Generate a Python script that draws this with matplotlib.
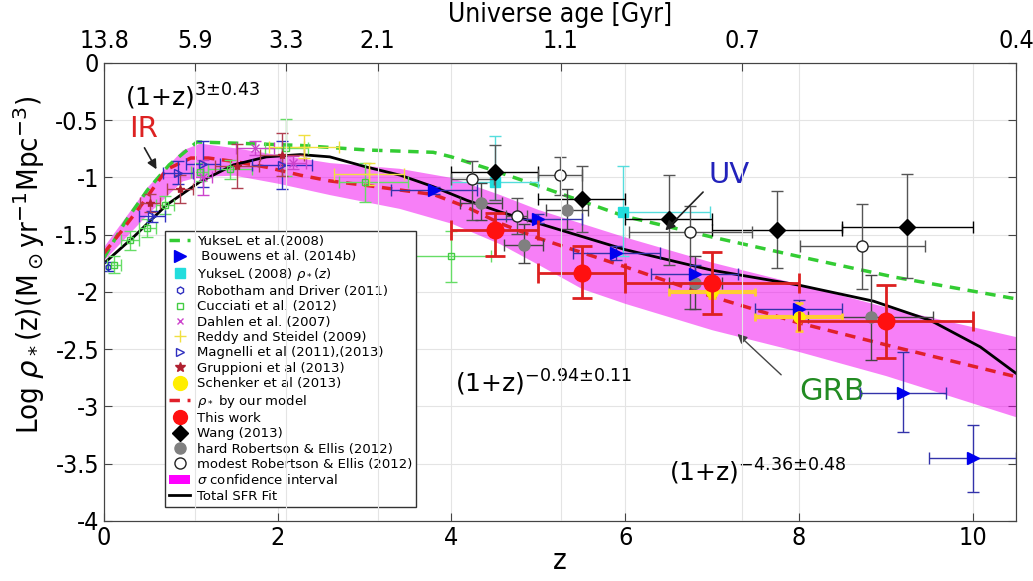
import numpy as np
import matplotlib
matplotlib.use('Agg')
import matplotlib.pyplot as plt
from matplotlib.lines import Line2D
from matplotlib.patches import Patch

plt.rcParams['font.family'] = 'DejaVu Sans'
plt.rcParams['axes.unicode_minus'] = False
plt.rcParams['mathtext.fontset'] = 'dejavusans'

# ---- curves ----
yuksel_z = [0, 0.25, 0.5, 0.75, 1.07, 1.5, 2.26, 3.03, 3.79, 4.0, 4.41, 4.76, 5.1, 6.0, 7.0, 8.0, 9.1, 10.5]
yuksel_y = [-1.70, -1.38, -1.11, -0.89, -0.69, -0.70, -0.72, -0.76, -0.78, -0.82, -0.92, -1.01, -1.10, -1.34, -1.52, -1.69, -1.87, -2.06]

model_z = [0, 0.2, 0.45, 0.72, 1.0, 1.2, 1.5, 1.87, 2.26, 2.6, 3.03, 3.8, 4.18, 4.56, 5.0, 6.0, 7.0, 8.0, 9.1, 10.5]
model_y = [-1.66, -1.47, -1.22, -0.93, -0.83, -0.83, -0.86, -0.91, -0.98, -1.03, -1.07, -1.15, -1.26, -1.40, -1.53, -1.78, -2.04, -2.27, -2.48, -2.74]

fit_z = [0, 0.34, 0.72, 1.1, 1.49, 1.87, 2.26, 2.6, 3.03, 3.41, 3.79, 4.18, 4.56, 5.0, 6.0, 7.0, 8.0, 8.86, 9.52, 10.09, 10.5]
fit_y = [-1.75, -1.52, -1.24, -1.04, -0.89, -0.82, -0.80, -0.82, -0.91, -0.98, -1.08, -1.20, -1.30, -1.40, -1.63, -1.81, -1.94, -2.08, -2.25, -2.48, -2.71]

band_z = [0, 0.5, 0.9, 1.1, 1.5, 2.0, 2.6, 3.4, 4.0, 4.56, 5.0, 5.5, 6.0, 7.0, 8.0, 9.0, 10.5]
band_hi = [-1.60, -1.08, -0.76, -0.70, -0.74, -0.80, -0.87, -0.92, -1.00, -1.15, -1.28, -1.40, -1.52, -1.74, -1.93, -2.13, -2.39]
band_lo = [-1.72, -1.32, -1.03, -0.99, -0.98, -1.05, -1.15, -1.27, -1.40, -1.58, -1.76, -1.97, -2.10, -2.33, -2.52, -2.73, -3.09]

# ---- data points ----
bouwens_z = [3.8, 5.0, 5.9, 6.8, 8.0, 9.2, 10.0]
bouwens_y = [-1.11, -1.36, -1.66, -1.84, -2.15, -2.88, -3.45]
bouwens_dx = [0.5, 0.5, 0.5, 0.5, 0.5, 0.5, 0.5]
bouwens_dy_lo = [0.03, 0.04, 0.06, 0.08, 0.08, 0.34, 0.30]
bouwens_dy_hi = [0.03, 0.04, 0.06, 0.08, 0.08, 0.36, 0.29]

ycyan_z = [4.5, 5.98]
ycyan_y = [-1.04, -1.30]
ycyan_dx_lo = [0.5, 0.0]
ycyan_dx_hi = [0.5, 1.0]
ycyan_dy_lo = [0.16, 0.39]
ycyan_dy_hi = [0.40, 0.40]

wang_z = [4.5, 5.5, 6.5, 7.75, 9.25]
wang_y = [-0.95, -1.19, -1.36, -1.46, -1.43]
wang_dx = [0.5, 0.5, 0.5, 0.75, 0.75]
wang_dy_lo = [0.25, 0.29, 0.40, 0.33, 0.45]
wang_dy_hi = [0.23, 0.29, 0.38, 0.34, 0.46]

modest_z = [4.24, 4.75, 5.25, 6.75, 8.73]
modest_y = [-1.01, -1.34, -0.98, -1.48, -1.60]
modest_dx = [0.25, 0.12, 0.25, 0.71, 0.72]
modest_dy_lo = [0.36, 0.15, 0.17, 0.67, 0.37]
modest_dy_hi = [0.15, 0.16, 0.16, 0.23, 0.37]

hard_z = [4.34, 4.83, 5.33, 6.81, 8.83]
hard_y = [-1.22, -1.59, -1.28, -1.92, -2.22]
hard_dx = [0.24, 0.23, 0.24, 0.3, 0.72]
hard_dy_lo = [0.15, 0.16, 0.17, 0.23, 0.37]
hard_dy_hi = [0.17, 0.18, 0.18, 0.23, 0.37]

grb_z = [4.5, 5.5, 7.0, 9.0]
grb_y = [-1.46, -1.83, -1.92, -2.25]
grb_dx = [0.5, 0.5, 1.0, 1.0]
grb_dy_lo = [0.23, 0.22, 0.27, 0.33]
grb_dy_hi = [0.15, 0.23, 0.27, 0.31]

schenker_z = [7.0, 8.0]
schenker_y = [-2.0, -2.22]
schenker_dx = [0.5, 0.5]
schenker_dy = [0.05, 0.12]

reddy_z = [2.3, 3.05]
reddy_y = [-0.73, -0.97]
reddy_dx = [0.4, 0.4]
reddy_dy = [0.1, 0.1]

cucciati_z = [0.12, 0.3, 0.5, 0.7, 1.1, 1.45, 2.1, 3.0, 4.0]
cucciati_y = [-1.76, -1.55, -1.44, -1.24, -0.95, -0.93, -0.74, -1.04, -1.69]
cucciati_dx_lo = [0.08, 0.1, 0.1, 0.1, 0.1, 0.25, 0.25, 0.3, 0.6]
cucciati_dx_hi = [0.08, 0.1, 0.1, 0.1, 0.1, 0.25, 0.25, 0.5, 0.45]
cucciati_dy = [0.07, 0.08, 0.08, 0.08, 0.08, 0.08, 0.25, 0.17, 0.22]

magnelli_z = [0.55, 0.85, 1.14, 2.05]
magnelli_y = [-1.34, -0.96, -0.88, -0.89]
magnelli_dx = [0.15, 0.17, 0.2, 0.35]
magnelli_dy = [0.05, 0.1, 0.2, 0.21]

dahlen_z = [1.14, 1.74, 2.18]
dahlen_y = [-1.00, -0.74, -0.87]
dahlen_dx = [0.1, 0.22, 0.15]
dahlen_dy = [0.15, 0.06, 0.06]

grupp_z = [0.53, 0.87, 1.53, 2.05]
grupp_y = [-1.22, -1.10, -0.90, -0.80]
grupp_dx = [0.12, 0.15, 0.25, 0.25]
grupp_dy = [0.08, 0.12, 0.19, 0.19]

robotham_z = [0.05]
robotham_y = [-1.78]
robotham_dy = [0.04]

age_ticks_z = [0, 1.05, 2.1, 3.15, 5.26, 7.35, 10.5]
age_labels = ['13.8', '5.9', '3.3', '2.1', '1.1', '0.7', '0.4']

fig = plt.figure(figsize=(10.33, 5.81), dpi=100)
ax = fig.add_axes([0.1007, 0.1033, 0.8828, 0.7883])

ax.fill_between(band_z, band_lo, band_hi, color='#f000f0', alpha=0.5, lw=0, zorder=1)
ax.plot(yuksel_z, yuksel_y, '--', color='#33cc33', lw=2.5, dashes=(3, 2.2), zorder=3)
ax.plot(model_z, model_y, '--', color='#e0202a', lw=2.5, dashes=(3, 2.2), zorder=3)
ax.plot(fit_z, fit_y, '-', color='black', lw=2, zorder=3)

ekw = dict(ls='none', capsize=4, elinewidth=1, capthick=1)

ax.errorbar(robotham_z, robotham_y, yerr=robotham_dy, fmt='h', ms=4, mfc='none',
            mec='#2020c0', ecolor='#2020c0', zorder=4, **ekw)
ax.errorbar(cucciati_z, cucciati_y, xerr=[cucciati_dx_lo, cucciati_dx_hi], yerr=cucciati_dy,
            fmt='s', ms=5, mfc='none', mec='#44cc44', ecolor='#66dd66', zorder=4, **ekw)
ax.errorbar(magnelli_z, magnelli_y, xerr=magnelli_dx, yerr=magnelli_dy, fmt='>', ms=6,
            mfc='none', mec='#3030c0', ecolor='#3030c0', zorder=4, **ekw)
ax.errorbar(dahlen_z, dahlen_y, xerr=dahlen_dx, yerr=dahlen_dy, fmt='x', ms=6,
            mec='#cc44cc', ecolor='#cc44cc', zorder=4, **ekw)
ax.errorbar(grupp_z, grupp_y, xerr=grupp_dx, yerr=grupp_dy, fmt='*', ms=6,
            color='#b02030', ecolor='#b04050', zorder=4, **ekw)
ax.errorbar(reddy_z, reddy_y, xerr=reddy_dx, yerr=reddy_dy, fmt='+', ms=8,
            color='#f0e040', ecolor='#f0e040', zorder=4, **ekw)
ax.errorbar(ycyan_z, ycyan_y, xerr=[ycyan_dx_lo, ycyan_dx_hi], yerr=[ycyan_dy_lo, ycyan_dy_hi],
            fmt='s', ms=7, color='#22dddd', ecolor='#55dddd', zorder=4, **ekw)
ax.errorbar(wang_z, wang_y, yerr=[wang_dy_lo, wang_dy_hi], fmt='D', ms=8,
            color='black', ecolor='#555555', zorder=5, **ekw)
ax.errorbar(wang_z, wang_y, xerr=wang_dx, fmt='none', ecolor='black', zorder=5, **ekw)
ax.errorbar(modest_z, modest_y, xerr=modest_dx, yerr=[modest_dy_lo, modest_dy_hi], fmt='o',
            ms=8, mfc='white', mec='#222222', ecolor='#555555', zorder=5, **ekw)
ax.errorbar(hard_z, hard_y, xerr=hard_dx, yerr=[hard_dy_lo, hard_dy_hi], fmt='o', ms=8,
            color='#808080', ecolor='#444444', zorder=5, **ekw)
ax.errorbar(bouwens_z, bouwens_y, xerr=bouwens_dx, yerr=[bouwens_dy_lo, bouwens_dy_hi],
            fmt='>', ms=8, color='#0000ee', ecolor='#3333aa', zorder=5, **ekw)
ax.errorbar(schenker_z, schenker_y, xerr=schenker_dx, yerr=schenker_dy, fmt='o', ms=8,
            color='#ffee00', ecolor='#ffcc33', zorder=5, ls='none', capsize=3,
            elinewidth=3, capthick=2)
ax.errorbar(grb_z, grb_y, xerr=grb_dx, yerr=[grb_dy_lo, grb_dy_hi], fmt='o', ms=12,
            color='#ff1010', ecolor='#dd2020', zorder=6, ls='none', capsize=7,
            elinewidth=2, capthick=2)

# slope labels and band names
fs = 18
ax.text(0.24, -0.3, r'(1+z)$^{3{\pm}0.43}$', fontsize=fs, ha='left', va='center')
ax.text(4.04, -2.79, r'(1+z)$^{-0.94{\pm}0.11}$', fontsize=fs, ha='left', va='center')
ax.text(6.5, -3.57, r'(1+z)$^{-4.36{\pm}0.48}$', fontsize=fs, ha='left', va='center')
ax.text(0.45, -0.58, 'IR', color='#dd2222', fontsize=21, ha='center', va='center')
ax.text(7.2, -0.98, 'UV', color='#2222bb', fontsize=21, ha='center', va='center')
ax.text(8.38, -2.87, 'GRB', color='#228b22', fontsize=22, ha='center', va='center')
arw = dict(arrowstyle='-|>', color='#222222', lw=1.2, mutation_scale=14)
ax.annotate('', xy=(0.62, -0.95), xytext=(0.45, -0.72), arrowprops=arw, zorder=7)
ax.annotate('', xy=(6.44, -1.48), xytext=(6.92, -1.11), arrowprops=arw, zorder=7)
ax.annotate('', xy=(7.27, -2.35), xytext=(7.82, -2.74),
            arrowprops=dict(arw, color='#444444', lw=1), zorder=7)

ax.set_xlim(0, 10.5)
ax.set_ylim(-4, 0)
ax.set_xticks([0, 2, 4, 6, 8, 10])
ax.set_yticks(np.arange(-4, 0.01, 0.5))
ax.set_yticklabels(['-4', '-3.5', '-3', '-2.5', '-2', '-1.5', '-1', '-0.5', '0'])
ax.tick_params(direction='in', labelsize=18, length=6, right=True, color='#444444')
for lab in ax.get_xticklabels() + ax.get_yticklabels():
    lab.set_fontstretch('condensed')
ax.grid(True, color='#e4e4e4', lw=0.8)
ax.set_axisbelow(True)
for s in ax.spines.values():
    s.set_color('#444444')
ax.set_xlabel('z', fontsize=21, labelpad=-2, fontstretch='condensed')
ax.set_ylabel(r'Log $\rho_*$(z)(M$_\odot$yr$^{-1}$Mpc$^{-3}$)', fontsize=21,
              fontstretch='condensed')
ax.yaxis.set_label_coords(-0.062, 0.56)

top = ax.twiny()
top.set_xlim(ax.get_xlim())
top.set_xticks(age_ticks_z)
top.set_xticklabels(age_labels)
top.tick_params(direction='in', labelsize=18, length=6, color='#444444', pad=7)
for lab in top.get_xticklabels():
    lab.set_fontstretch('condensed')
top.xaxis.grid(True, color='#e4e4e4', lw=0.8)
top.set_xlabel('Universe age [Gyr]', fontsize=19, labelpad=5, fontstretch='condensed')
for s in top.spines.values():
    s.set_color('#444444')

handles = [
    Line2D([], [], color='#33cc33', ls='--', lw=2.5, dashes=(3, 2.2)),
    Line2D([], [], color='#0000ee', marker='>', ls='none', ms=8),
    Line2D([], [], color='#22dddd', marker='s', ls='none', ms=7),
    Line2D([], [], color='#3030c0', marker='h', mfc='none', ls='none', ms=5),
    Line2D([], [], color='#44cc44', marker='s', mfc='none', ls='none', ms=5),
    Line2D([], [], color='#cc44cc', marker='x', ls='none', ms=5),
    Line2D([], [], color='#f0e040', marker='+', ls='none', ms=8),
    Line2D([], [], color='#3030c0', marker='>', mfc='none', ls='none', ms=6),
    Line2D([], [], color='#b02030', marker='*', ls='none', ms=7),
    Line2D([], [], color='#ffee00', marker='o', ls='none', ms=10),
    Line2D([], [], color='#e0202a', ls='--', lw=2.5, dashes=(3, 2.2)),
    Line2D([], [], color='#ff1010', marker='o', ls='none', ms=10),
    Line2D([], [], color='black', marker='D', ls='none', ms=8),
    Line2D([], [], color='#808080', marker='o', ls='none', ms=8),
    Line2D([], [], mec='#222222', mfc='white', marker='o', ls='none', ms=8),
    Patch(facecolor='#ff00ff', edgecolor='none'),
    Line2D([], [], color='black', lw=2),
]
labels = [
    'YukseL et al.(2008)',
    ' Bouwens et al. (2014b)',
    r'YukseL (2008) $\rho_*(z)$',
    'Robotham and Driver (2011)',
    'Cucciati et al. (2012)',
    'Dahlen et al. (2007)',
    'Reddy and Steidel (2009)',
    'Magnelli et al (2011),(2013)',
    'Gruppioni et al (2013)',
    'Schenker et al (2013)',
    r'$\rho_*$ by our model',
    'This work',
    'Wang (2013)',
    'hard Robertson & Ellis (2012)',
    'modest Robertson & Ellis (2012)',
    r'$\sigma$ confidence interval',
    'Total SFR Fit',
]
leg = ax.legend(handles, labels, loc='lower left', bbox_to_anchor=(0.067, 0.031),
                fontsize=9.5, labelspacing=0.18, handlelength=1.6, handletextpad=0.5,
                borderpad=0.3, borderaxespad=0, fancybox=False, framealpha=1,
                edgecolor='#333333')
leg.set_zorder(10)

fig.savefig('out.png', dpi=100)
